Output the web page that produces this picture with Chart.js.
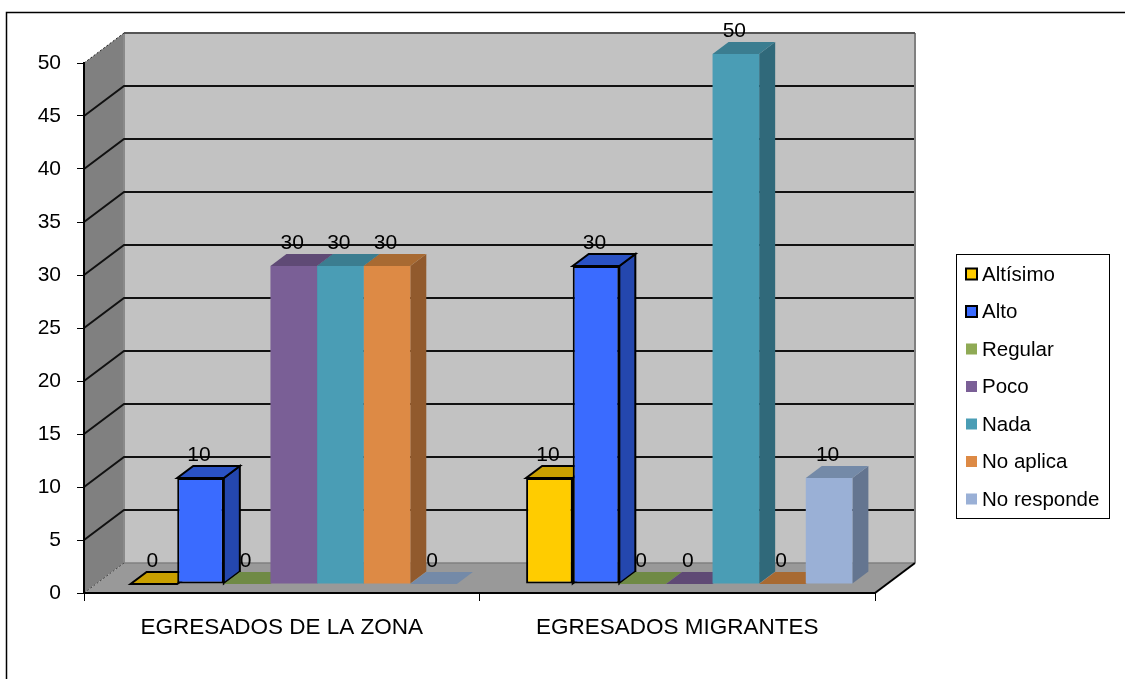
<!DOCTYPE html>
<html>
<head>
<meta charset="utf-8">
<title>Egresados</title>
<script src="https://cdn.jsdelivr.net/npm/chart.js@4/dist/chart.umd.min.js"></script>
<style>
  html, body { margin: 0; background: #fff; }
  canvas { display: block; }
</style>
</head>
<body>
<canvas id="grafico" width="1125" height="679"></canvas>
<script>
const categories = ["EGRESADOS DE LA ZONA", "EGRESADOS MIGRANTES"];
const seriesNames = ["Altísimo", "Alto", "Regular", "Poco", "Nada", "No aplica", "No responde"];

const altisimo = [0, 10];
const alto = [10, 30];
const regular = [0, 0];
const poco = [30, 0];
const nada = [30, 50];
const noAplica = [30, 0];
const noResponde = [0, 10];
const seriesValues = [altisimo, alto, regular, poco, nada, noAplica, noResponde];

const frontColors = ["#FFCC00", "#3A6BFF", "#8FAA55", "#7A5F96", "#4A9DB5", "#DD8A45", "#9AB0D6"];
const topColors = ["#C9A000", "#2A52C4", "#6F8A45", "#5F4A75", "#3B7D90", "#A86A32", "#748AA8"];
const sideColors = ["#A08000", "#2447AE", "#5C7238", "#4E3D62", "#30697A", "#915A2D", "#647590"];
const outlined = [true, true, false, false, false, false, false];

const yTicksMax = 50;
const yTickStep = 5;

const font = "Liberation Sans, Arial, sans-serif";
// profundidad de la caja y de las barras
const wallDx = 40, wallDy = 30;
const barShiftX = 12, barShiftY = 9;
const barDx = 16, barDy = 12;

function path(ctx, pts) {
  ctx.beginPath();
  pts.forEach((p, i) => i ? ctx.lineTo(p[0], p[1]) : ctx.moveTo(p[0], p[1]));
  ctx.closePath();
}

function line(ctx, pts, color, width, dash) {
  ctx.beginPath();
  pts.forEach((p, i) => i ? ctx.lineTo(p[0], p[1]) : ctx.moveTo(p[0], p[1]));
  ctx.strokeStyle = color;
  ctx.lineWidth = width;
  ctx.setLineDash(dash || []);
  ctx.stroke();
  ctx.setLineDash([]);
}

// marco, paredes y suelo
const walls = {
  id: "walls",
  beforeDraw(chart) {
    const ctx = chart.ctx;
    const x = chart.scales.x, y = chart.scales.y;
    const l = x.left, r = x.right;
    const b = y.getPixelForValue(0), t = y.getPixelForValue(yTicksMax);

    ctx.save();
    line(ctx, [[6.5, 679], [6.5, 12.5], [1125, 12.5]], "#000", 1.5);

    path(ctx, [[l, b], [l + wallDx, b - wallDy], [l + wallDx, t - wallDy], [l, t]]);
    ctx.fillStyle = "#808080";
    ctx.fill();

    path(ctx, [[l + wallDx, b - wallDy], [r + wallDx, b - wallDy], [r + wallDx, t - wallDy], [l + wallDx, t - wallDy]]);
    ctx.fillStyle = "#C2C2C2";
    ctx.fill();

    path(ctx, [[l, b], [r, b], [r + wallDx, b - wallDy], [l + wallDx, b - wallDy]]);
    ctx.fillStyle = "#999999";
    ctx.fill();

    line(ctx, [[l + wallDx, b - wallDy], [l + wallDx, t - wallDy]], "#8a8a8a", 2);
    line(ctx, [[r + wallDx, b - wallDy], [r + wallDx, t - wallDy]], "#808080", 2);
    line(ctx, [[l + wallDx, b - wallDy], [r + wallDx, b - wallDy]], "#808080", 1.5);
    line(ctx, [[l + wallDx, t - wallDy], [r + wallDx, t - wallDy]], "#555", 2);
    line(ctx, [[l, t], [l + wallDx, t - wallDy]], "#222", 1, [2, 2]);
    line(ctx, [[l, b], [l + wallDx, b - wallDy]], "#444", 1, [2, 2]);
    line(ctx, [[r, b], [r + wallDx, b - wallDy]], "#000", 2);

    y.ticks.forEach(tick => {
      if (tick.value === 0 || tick.value === yTicksMax) return;
      const p = y.getPixelForValue(tick.value);
      line(ctx, [[l, p], [l + wallDx, p - wallDy], [r + wallDx - 1, p - wallDy]], "#111", 2);
    });
    ctx.restore();
  }
};

// caras de arriba y de lado; el frente lo dibuja Chart.js encima
const bars3d = {
  id: "bars3d",
  beforeDatasetsDraw(chart) {
    const ctx = chart.ctx;
    ctx.save();
    ctx.translate(barShiftX, -barShiftY);
    seriesNames.forEach((name, i) => {
      chart.getDatasetMeta(i).data.forEach(bar => {
        const x0 = bar.x - bar.width / 2, x1 = bar.x + bar.width / 2;
        const top = bar.y, base = bar.base;
        if (base - top > 0) {
          path(ctx, [[x1, base], [x1 + barDx, base - barDy], [x1 + barDx, top - barDy], [x1, top]]);
          ctx.fillStyle = sideColors[i];
          ctx.fill();
          if (outlined[i]) { ctx.strokeStyle = "#000"; ctx.lineWidth = 2; ctx.stroke(); }
        }
        path(ctx, [[x0, top], [x1, top], [x1 + barDx, top - barDy], [x0 + barDx, top - barDy]]);
        ctx.fillStyle = topColors[i];
        ctx.fill();
        if (outlined[i]) { ctx.strokeStyle = "#000"; ctx.lineWidth = 2; ctx.stroke(); }
      });
    });
    ctx.restore();
  },
  beforeDatasetDraw(chart) {
    chart.ctx.save();
    chart.ctx.translate(barShiftX, -barShiftY);
  },
  afterDatasetDraw(chart) {
    chart.ctx.restore();
  },
  afterDatasetsDraw(chart) {
    const ctx = chart.ctx;
    ctx.save();
    ctx.font = "21px " + font;
    ctx.fillStyle = "#000";
    ctx.textAlign = "center";
    ctx.textBaseline = "middle";
    seriesNames.forEach((name, i) => {
      chart.getDatasetMeta(i).data.forEach((bar, j) => {
        ctx.fillText(String(seriesValues[i][j]), bar.x + barShiftX - 1.5, bar.y - barShiftY - 23);
      });
    });
    ctx.restore();
  }
};

// leyenda con recuadro
const legendBox = {
  id: "legendBox",
  afterDraw(chart) {
    const ctx = chart.ctx;
    ctx.save();
    ctx.fillStyle = "#fff";
    ctx.fillRect(956.5, 254.5, 153, 264);
    ctx.strokeStyle = "#000";
    ctx.lineWidth = 1;
    ctx.strokeRect(956.5, 254.5, 153, 264);
    ctx.font = "20.5px " + font;
    ctx.textBaseline = "middle";
    seriesNames.forEach((name, i) => {
      const cy = 274 + i * 37.5;
      ctx.fillStyle = frontColors[i];
      ctx.fillRect(966, cy - 5.5, 11, 11);
      if (outlined[i]) {
        ctx.strokeStyle = "#000";
        ctx.lineWidth = 2;
        ctx.strokeRect(966, cy - 5.5, 11, 11);
      }
      ctx.fillStyle = "#000";
      ctx.fillText(name, 982, cy + 1);
    });
    ctx.restore();
  }
};

new Chart(document.getElementById("grafico").getContext("2d"), {
  type: "bar",
  data: {
    labels: categories,
    datasets: seriesNames.map((name, i) => ({
      label: name,
      data: seriesValues[i],
      backgroundColor: frontColors[i],
      borderColor: "#000",
      borderWidth: outlined[i] ? 2 : 0,
      borderSkipped: false,
      clip: false,
      categoryPercentage: 0.825,
      barPercentage: 1
    }))
  },
  plugins: [walls, bars3d, legendBox],
  options: {
    responsive: false,
    animation: false,
    layout: { padding: { top: 63, right: 250 } },
    plugins: {
      legend: { display: false },
      tooltip: { enabled: false }
    },
    scales: {
      x: {
        afterFit: s => { s.height = 86; },
        grid: { offset: true, drawOnChartArea: false, color: "#000", lineWidth: 1, tickLength: 8 },
        border: { color: "#000", width: 2 },
        ticks: { color: "#000", font: { family: font, size: 22.5 }, padding: 13, maxRotation: 0, autoSkip: false }
      },
      y: {
        min: 0,
        max: yTicksMax,
        afterFit: s => { s.width = 84; },
        grid: { drawOnChartArea: false, color: "#000", lineWidth: 1, tickLength: 7 },
        border: { color: "#000", width: 2 },
        ticks: { stepSize: yTickStep, color: "#000", font: { family: font, size: 21 }, padding: 16 }
      }
    }
  }
});
</script>
</body>
</html>
